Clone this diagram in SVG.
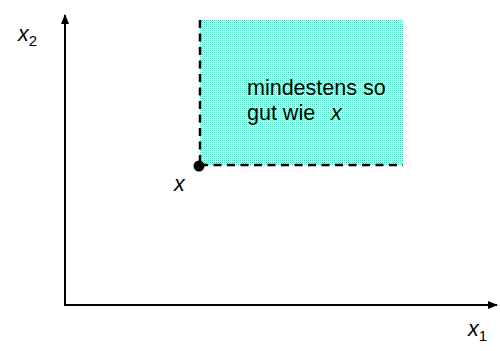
<svg xmlns="http://www.w3.org/2000/svg" width="500" height="351" viewBox="0 0 500 351">
  <style>
    .axis { stroke: #000; stroke-width: 2; fill: none; }
    .dash { stroke: #000; stroke-width: 2.5; fill: none; stroke-dasharray: 8 5.5; }
    .lbl { font-family: "Liberation Sans", Arial, sans-serif; font-size: 21.5px; fill: #000; }
    .var { font-style: italic; }
    .sub { font-size: 15px; font-style: normal; }
  </style>
  <defs>
    <marker id="arrow" markerWidth="10" markerHeight="10" refX="9" refY="5" orient="auto" markerUnits="userSpaceOnUse">
      <path d="M0,1 L10,5 L0,9 Z" fill="#000"/>
    </marker>
    <!-- dotted teal screen fill -->
    <pattern id="dots" width="2" height="2" patternUnits="userSpaceOnUse">
      <rect width="2" height="2" fill="#e6faf5"/>
      <rect x="0" y="0" width="1" height="1" fill="#4fd8b8"/>
      <rect x="1" y="1" width="1" height="1" fill="#b5efe1"/>
    </pattern>
  </defs>

  <!-- region preferred to x -->
  <g id="region">
    <rect x="200" y="20" width="203" height="145" fill="url(#dots)"/>
    <text class="lbl" x="247" y="95">mindestens so</text>
    <text class="lbl" x="247" y="120">gut wie <tspan class="var" dx="10">x</tspan></text>
  </g>

  <g id="connectors">
    <line class="axis" x1="65" y1="306" x2="65" y2="15" marker-end="url(#arrow)"/>
    <line class="axis" x1="64" y1="305" x2="497" y2="305" marker-end="url(#arrow)"/>
    <line class="dash" x1="200" y1="20" x2="200" y2="165"/>
    <line class="dash" x1="200" y1="165" x2="403" y2="165"/>
  </g>

  <g id="point-x">
    <circle cx="199" cy="166" r="5.5" fill="#000"/>
    <text class="lbl var" x="174" y="191">x</text>
  </g>

  <g id="label-x2">
    <text class="lbl var" x="18" y="41">x<tspan class="sub" dy="5">2</tspan></text>
  </g>
  <g id="label-x1">
    <text class="lbl var" x="468" y="336">x<tspan class="sub" dy="5">1</tspan></text>
  </g>
</svg>
